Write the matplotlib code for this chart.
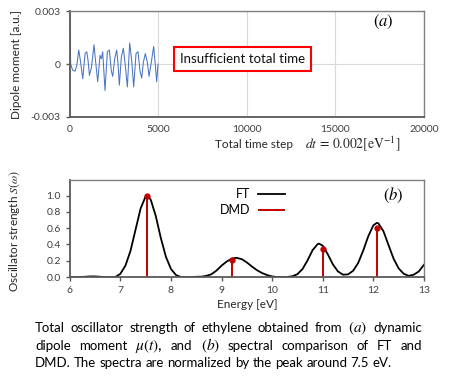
import matplotlib
matplotlib.use("Agg")
import matplotlib.pyplot as plt

plt.rcParams['font.family'] = ['Lato', 'DejaVu Sans']
plt.rcParams['mathtext.fontset'] = 'stix'

# (a) dipole moment vs time step
steps = [0, 50, 168, 300, 395, 508, 600, 733, 866, 960, 1035, 1110, 1223,
         1371, 1446, 1578, 1710, 1785, 1860, 1992, 2124, 2237, 2350, 2425,
         2538, 2651, 2720, 2801, 2914, 3027, 3140, 3253, 3385, 3498, 3611,
         3743, 3855, 3968, 4062, 4156, 4269, 4382, 4476, 4589, 4740, 4834,
         4909, 4984]
dipole = [0.0027, 0.0, -0.00035, -0.0004, -0.0001, 0.0008, 0.0002, -0.00083,
          0.0006, 0.0007, 0.0002, -0.00064, -0.0002, 0.0011, 0.0003, -0.0010,
          0.0005, 0.0003, 0.0007, -0.0015, 0.0007, 0.0008, -0.0004, -0.0007,
          0.0003, 0.0008, 0.0001, -0.0012, 0.0004, 0.0009, -0.0001, -0.0013,
          0.0012, 0.0002, -0.0013, 0.0006, 0.0007, -0.0004, -0.0008, 0.0001,
          0.0006, 0.0001, -0.0007, 0.0, 0.0010, -0.0001, -0.0010, 0.0]

# (b) FT spectrum
energy = [6.0, 6.1, 6.2, 6.3, 6.4, 6.5, 6.6, 6.7, 6.8, 6.9, 7.0, 7.1, 7.2, 7.3,
          7.4, 7.5, 7.53, 7.6, 7.7, 7.8, 7.9, 8.0, 8.1, 8.2, 8.3, 8.4, 8.5,
          8.6, 8.7, 8.8, 8.9, 9.0, 9.1, 9.2, 9.27, 9.3, 9.4, 9.5, 9.6, 9.7,
          9.8, 9.9, 10.0, 10.1, 10.2, 10.3, 10.4, 10.5, 10.6, 10.7, 10.8, 10.9,
          10.93, 11.0, 11.1, 11.2, 11.3, 11.4, 11.5, 11.6, 11.7, 11.8, 11.9,
          12.0, 12.07, 12.1, 12.2, 12.3, 12.4, 12.5, 12.6, 12.7, 12.8, 12.9,
          13.0]
ft = [0.0, 0.0, 0.0, 0.004, 0.008, 0.008, 0.004, 0.0, 0.0, 0.0, 0.04, 0.14,
      0.32, 0.58, 0.84, 0.99, 1.0, 0.95, 0.75, 0.48, 0.25, 0.10, 0.025, 0.0,
      0.0, 0.0, 0.004, 0.005, 0.015, 0.035, 0.08, 0.14, 0.19, 0.225, 0.235,
      0.235, 0.22, 0.18, 0.13, 0.085, 0.05, 0.025, 0.008, 0.0, 0.0, 0.002,
      0.01, 0.036, 0.098, 0.205, 0.33, 0.405, 0.41, 0.385, 0.28, 0.157, 0.07,
      0.03, 0.033, 0.077, 0.172, 0.324, 0.50, 0.634, 0.665, 0.659, 0.563,
      0.394, 0.227, 0.107, 0.041, 0.015, 0.03, 0.07, 0.15]

# (b) DMD peaks
dmd_energy = [7.52, 9.21, 11.01, 12.08]
dmd_strength = [1.0, 0.21, 0.35, 0.60]

caption = [
    "Total oscillator strength of ethylene obtained from $(a)$ dynamic",
    "dipole moment $\\mu(t)$, and $(b)$ spectral comparison of FT and",
    "DMD. The spectra are normalized by the peak around 7.5 eV.",
]

dark = '#595959'
tick_fs = 7.5
lab_fs = 8.5

fig = plt.figure(figsize=(4.5, 3.77), dpi=100)

# ---- panel (a)
ax1 = fig.add_axes([0.155, 0.69, 0.787, 0.28])
ax1.plot(steps, dipole, color='#4a74c4', lw=0.75)
ax1.set_xlim(0, 20000)
ax1.set_ylim(-0.003, 0.003)
ax1.set_xticks([0, 5000, 10000, 15000, 20000])
ax1.set_yticks([-0.003, 0, 0.003])
ax1.set_yticklabels(['-0.003', '0', '0.003'])
ax1.grid(True, color='#d9d9d9', lw=0.8)
ax1.set_axisbelow(True)
ax1.tick_params(axis='x', length=0, pad=6, labelsize=tick_fs, colors='#404040')
ax1.tick_params(axis='y', length=3, width=1, color=dark, labelsize=tick_fs,
                labelcolor='#404040')
for s in ['left', 'bottom']:
    ax1.spines[s].set_color(dark)
    ax1.spines[s].set_linewidth(1.3)
for s in ['top', 'right']:
    ax1.spines[s].set_color('#808080')
    ax1.spines[s].set_linewidth(1.0)
ax1.set_ylabel('Dipole moment [a.u.]', fontsize=lab_fs, color='#262626')
ax1.yaxis.set_label_coords(-0.135, 0.5)
ax1.text(0.885, 0.9, '$(a)$', transform=ax1.transAxes, fontsize=12,
         ha='center', va='center')
ax1.text(9750, 0.0003, 'Insufficient total time', fontsize=9.5, ha='center',
         va='center', color='#111111',
         bbox=dict(boxstyle='square,pad=0.45', fc='white', ec='#ff0000',
                   lw=1.5))
fig.text(215 / 450, 1 - 145 / 377, 'Total time step', fontsize=lab_fs,
         ha='left', va='center', color='#262626')
fig.text(305 / 450, 1 - 144 / 377, '$dt\\,=\\,0.002[\\mathrm{eV}^{-1}]$',
         fontsize=9.8, ha='left', va='center', color='#262626')

# ---- panel (b)
ax2 = fig.add_axes([0.155, 0.265, 0.787, 0.2575])
ax2.plot(energy, ft, color='black', lw=1.3, label='FT')
ax2.vlines(dmd_energy, 0, dmd_strength, color='#c00000', lw=1.4, label='DMD')
ax2.plot(dmd_energy, dmd_strength, 'o', color='#c00000', ms=3.5)
ax2.set_xlim(6, 13)
ax2.set_ylim(0, 1.19)
ax2.set_xticks(range(6, 14))
ax2.set_yticks([0, 0.2, 0.4, 0.6, 0.8, 1.0])
ax2.set_yticklabels(['0.0', '0.2', '0.4', '0.6', '0.8', '1.0'])
ax2.tick_params(length=3, width=1, color=dark, labelsize=tick_fs,
                labelcolor='#404040')
for s in ['left', 'bottom']:
    ax2.spines[s].set_color(dark)
    ax2.spines[s].set_linewidth(1.3)
for s in ['top', 'right']:
    ax2.spines[s].set_color('#808080')
    ax2.spines[s].set_linewidth(1.0)
ax2.set_ylabel('Oscillator strength $S(\\omega)$', fontsize=lab_fs,
               color='#262626')
ax2.yaxis.set_label_coords(-0.135, 0.47)
ax2.set_xlabel('Energy [eV]', fontsize=lab_fs, color='#262626', labelpad=3)
ax2.text(0.915, 0.845, '$(b)$', transform=ax2.transAxes, fontsize=12,
         ha='center', va='center')
ax2.legend(loc='upper left', bbox_to_anchor=(0.41, 0.97), markerfirst=False,
           frameon=False, fontsize=9, handlelength=2.2, handletextpad=0.6,
           labelspacing=0.35, borderaxespad=0)

# ---- caption, justified
fig.canvas.draw()
renderer = fig.canvas.get_renderer()
left_px, right_px = 35, 422
line_y = [328, 346, 363]
cap_fs = 9.5
for i, line in enumerate(caption):
    y = 1 - line_y[i] / 377
    words = line.split(' ')
    arts = [fig.text(0, y, w, fontsize=cap_fs + (1.5 if '$' in w else 0),
                     ha='left', va='center') for w in words]
    widths = [a.get_window_extent(renderer).width for a in arts]
    if i == len(caption) - 1:
        space = fig.text(0, y, 'a a', fontsize=cap_fs).get_window_extent(renderer).width \
            - 2 * fig.text(0, y, 'a', fontsize=cap_fs).get_window_extent(renderer).width
        for t in fig.texts[-2:]:
            t.remove()
        gap = space
    else:
        gap = (right_px - left_px - sum(widths)) / (len(words) - 1)
    x = left_px
    for a, w in zip(arts, widths):
        a.set_x(x / 450)
        x += w + gap

fig.savefig('out.png', dpi=100)
